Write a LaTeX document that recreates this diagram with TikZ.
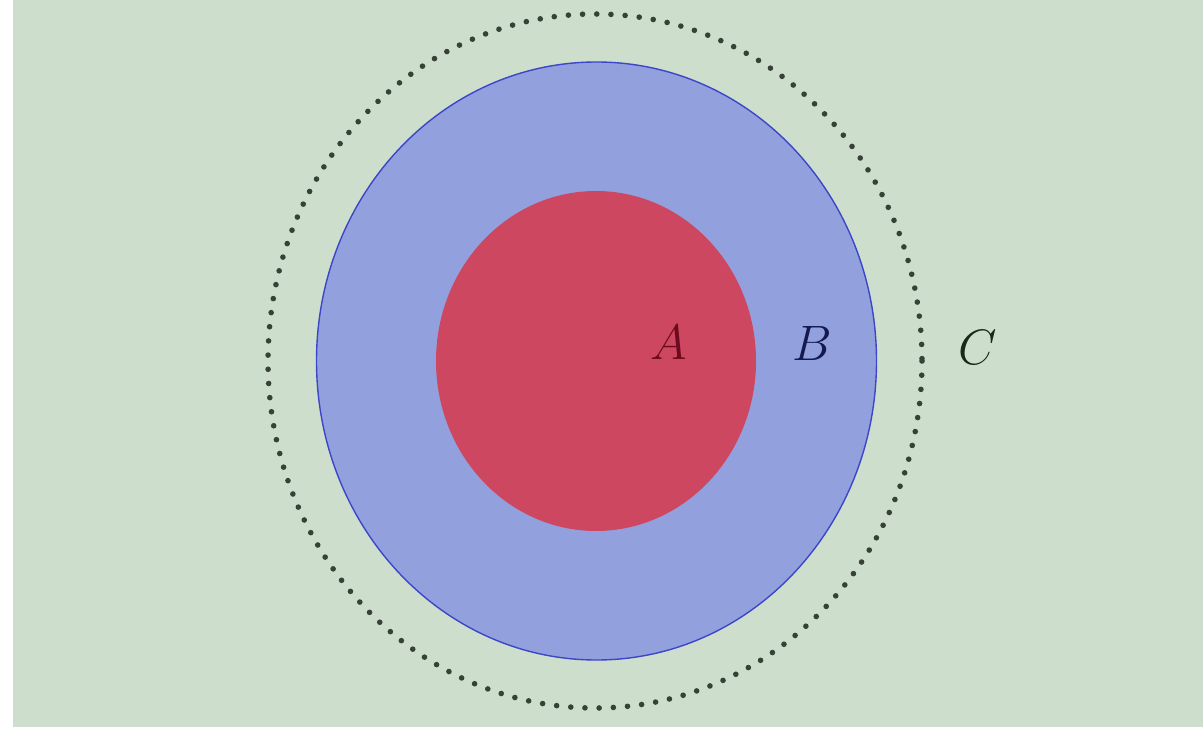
\documentclass[tikz,border=0pt]{standalone}
\definecolor{bggreen}{RGB}{206,222,204}
\definecolor{bblue}{RGB}{146,161,222}
\definecolor{bedge}{RGB}{60,70,200}
\definecolor{ared}{RGB}{206,71,96}
\definecolor{dotc}{RGB}{55,65,55}
\begin{document}
\begin{tikzpicture}[x=0.5pt,y=-0.5pt,
  lbl/.style={font=\fontsize{34}{40}\selectfont, inner sep=0pt}]
\useasboundingbox (0,0) rectangle (1203,732);
\fill[white] (0,0) rectangle (1203,732);
\fill[bggreen] (13,0) rectangle (1203,727);
\draw[dotc, line width=2.8pt, line cap=round, dash pattern=on 0pt off 7.1pt]
  (595,361) ellipse [x radius=327, y radius=347];
\filldraw[fill=bblue, draw=bedge, line width=0.7pt]
  (596.5,361) ellipse [x radius=280, y radius=299];
\fill[ared] (596,361) ellipse [x radius=160, y radius=170];
\node[lbl, text={rgb,255:red,110;green,10;blue,30}] (A) at (669,342) {$A$};
\node[lbl, text={rgb,255:red,20;green,25;blue,80}] (B) at (812,343) {$B$};
\node[lbl, text={rgb,255:red,25;green,40;blue,25}] (C) at (978,347) {$C$};
\end{tikzpicture}
\end{document}
